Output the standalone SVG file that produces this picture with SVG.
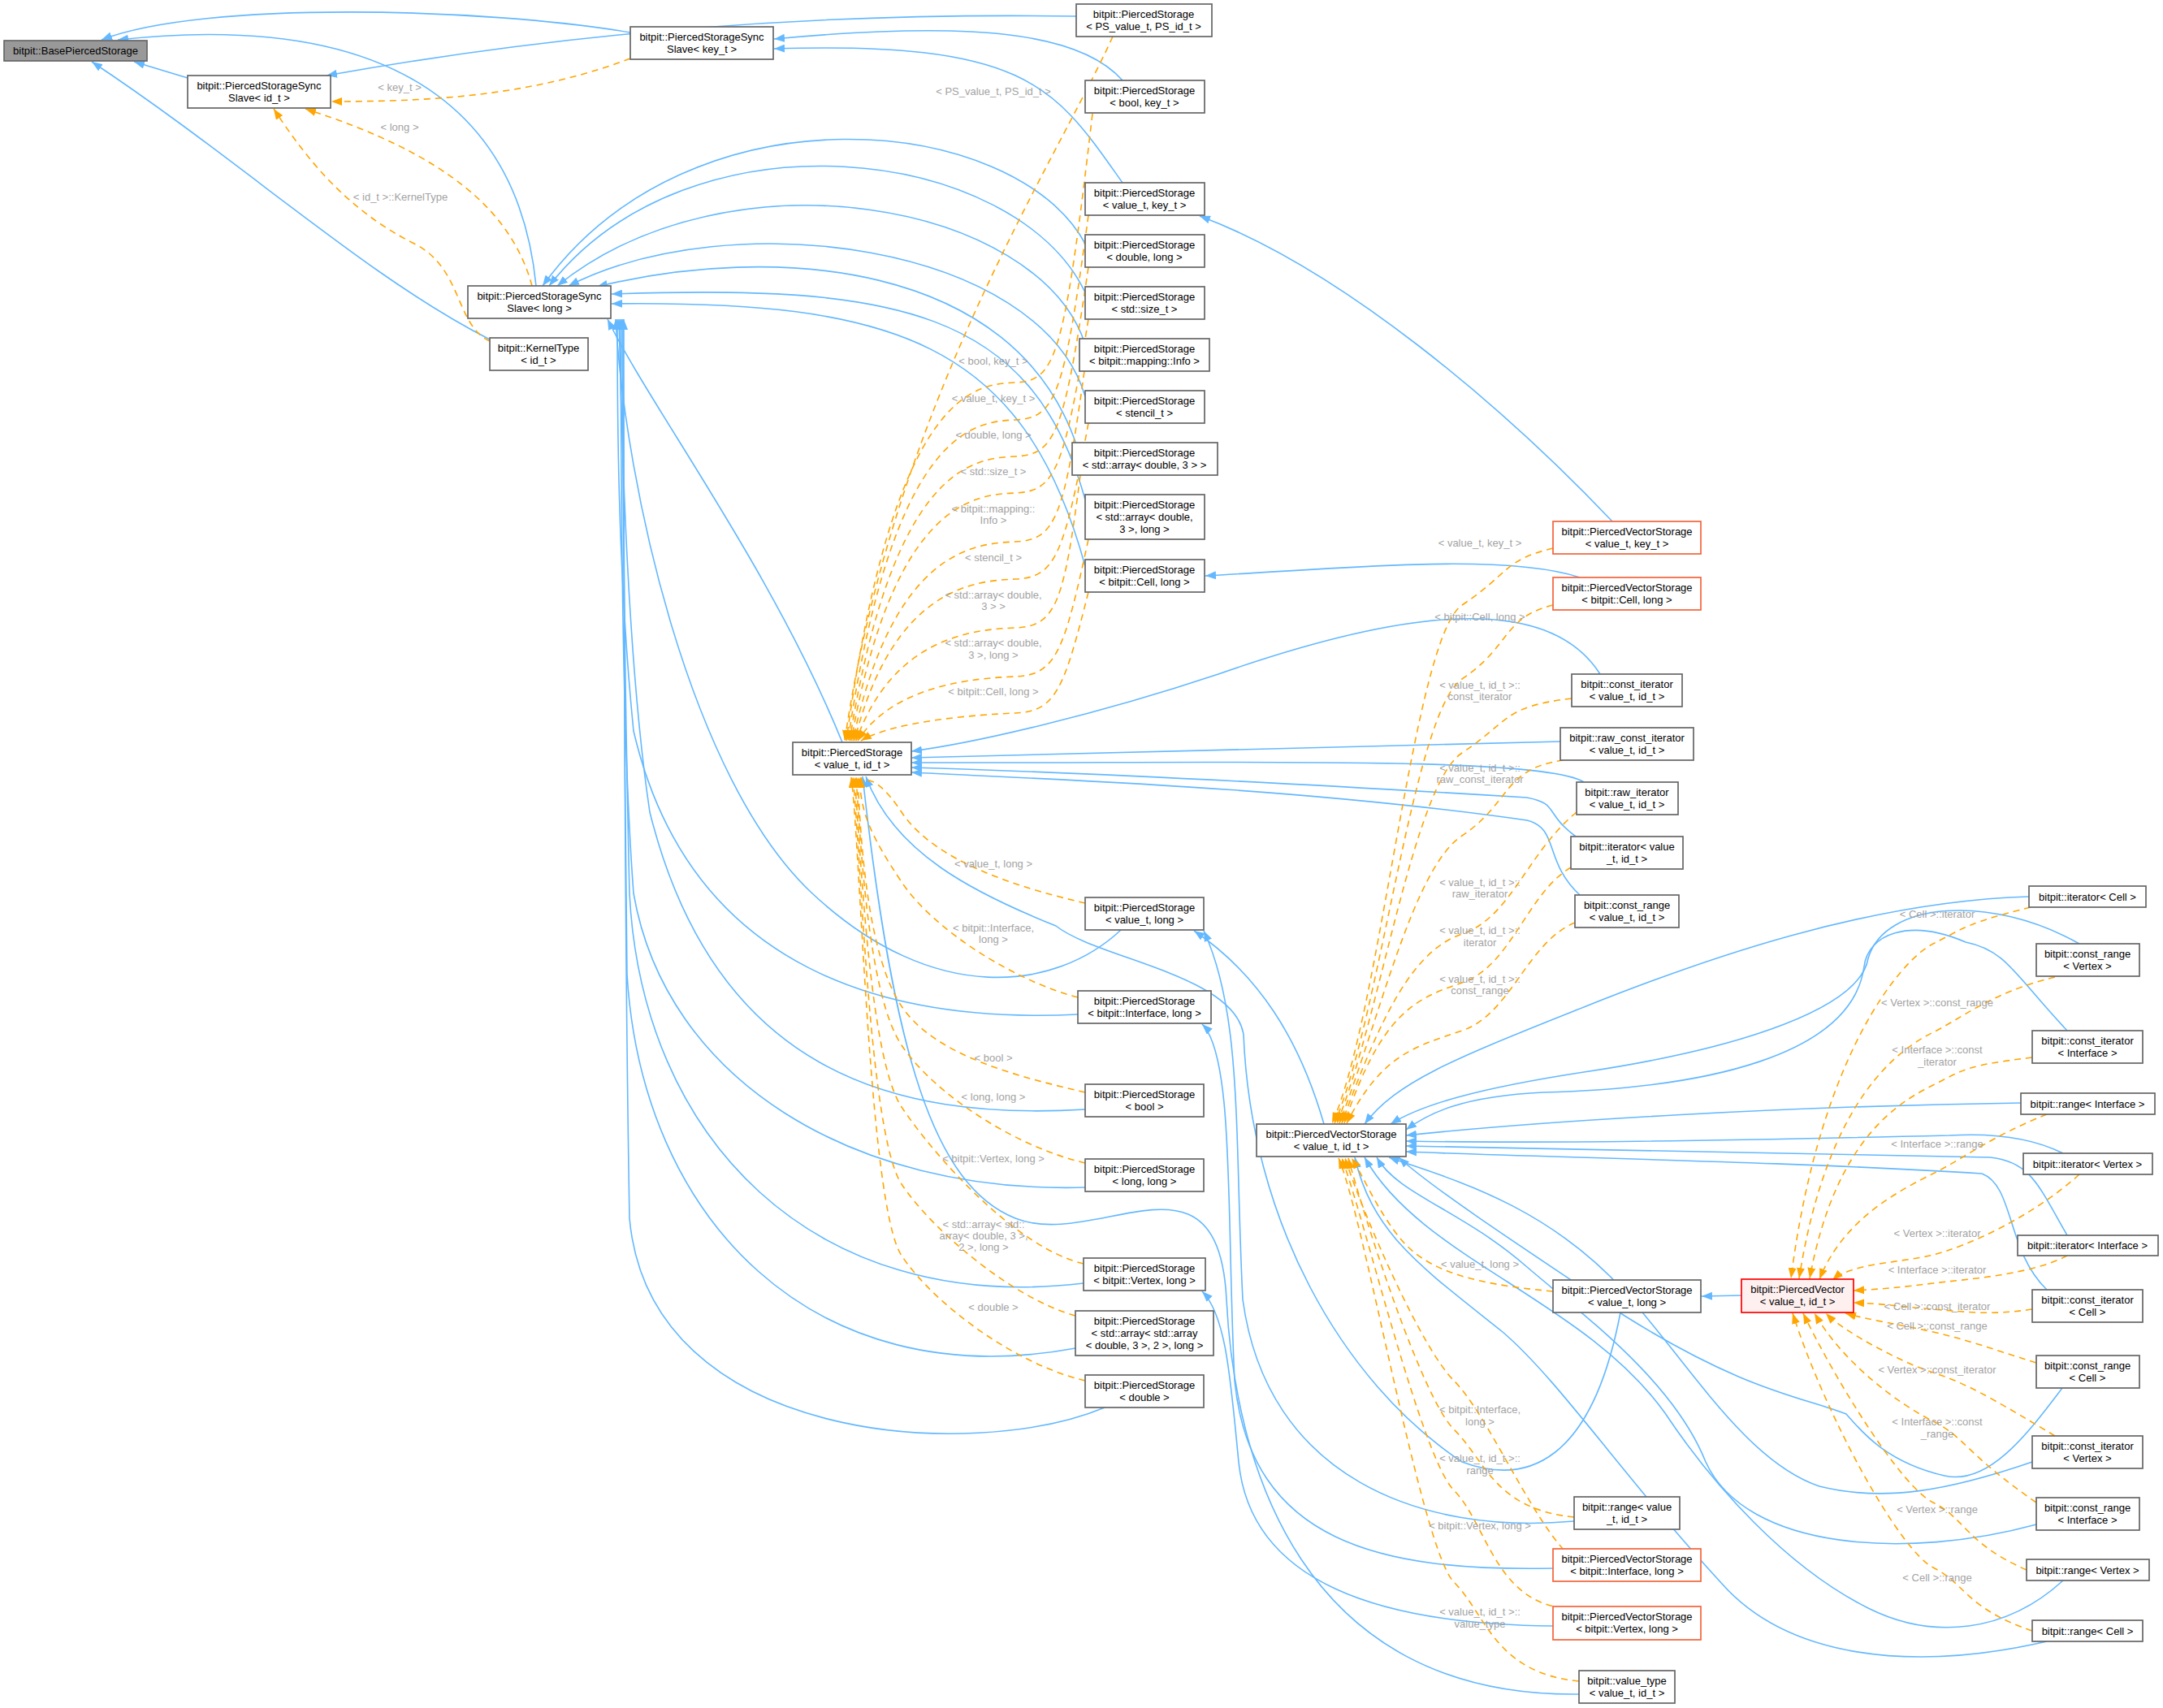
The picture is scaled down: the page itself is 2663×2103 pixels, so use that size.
<svg xmlns="http://www.w3.org/2000/svg" width="2663" height="2103" viewBox="0 0 2663 2103">
<style>
.n rect{fill:#fff;stroke:#666;stroke-width:1.7}
.r rect{fill:#fff;stroke:#f4633a;stroke-width:1.7}
text{font-family:"Liberation Sans",Arial,sans-serif;font-size:13px;text-anchor:middle;fill:#000}
.l{fill:#a3a3a3}
.b{fill:none;stroke:#63b8ff;stroke-width:1.6}
.o{fill:none;stroke:#ffa500;stroke-width:1.6;stroke-dasharray:8,6}
</style>
<defs>
<marker id="ab" markerUnits="userSpaceOnUse" markerWidth="14" markerHeight="10" refX="13" refY="5" orient="auto"><path d="M0,0 L13,5 L0,10 z" fill="#63b8ff"/></marker>
<marker id="ao" markerUnits="userSpaceOnUse" markerWidth="14" markerHeight="10" refX="13" refY="5" orient="auto"><path d="M0,0 L13,5 L0,10 z" fill="#ffa500"/></marker>
</defs>
<rect width="2663" height="2103" fill="#fff"/>
<g id="edges">
<g marker-end="url(#ab)">
<path class="b" d="M231,96 L165,76"/>
<path class="b" d="M776,40 C600,10 250,0 125,49"/>
<path class="b" d="M660,352 C640,150 500,10 145,49"/>
<path class="b" d="M603,418 C450,340 300,200 113,76"/>
<path class="b" d="M1325,20 C1000,15 700,40 402,93"/>
<path class="b" d="M1382,99 C1330,40 1200,25 953,48"/>
<path class="b" d="M1382,225 C1300,110 1270,50 953,60"/>
<path class="b" d="M1037,914 C950,700 800,500 748,393"/>
<path class="b" d="M1336,300 C1250,140 850,100 668,352"/>
<path class="b" d="M1336,360 C1250,180 850,130 676,352"/>
<path class="b" d="M1336,424 C1280,250 900,180 686,352"/>
<path class="b" d="M1336,488 C1280,300 900,250 700,352"/>
<path class="b" d="M1326,550 C1250,320 950,300 735,353"/>
<path class="b" d="M1336,615 C1270,380 1100,350 753,362"/>
<path class="b" d="M1336,697 C1260,420 1100,370 753,374"/>
<path class="b" d="M1380,1145 C1300,1220 1150,1240 1000,1100 C850,960 770,600 758,393"/>
<path class="b" d="M1327,1249 C1100,1260 850,1200 780,900 C760,700 760,500 760,393"/>
<path class="b" d="M1336,1366 C1100,1380 880,1320 800,1000 C770,800 765,500 762,393"/>
<path class="b" d="M1336,1462 C1050,1470 820,1330 780,1100 C765,900 765,600 764,393"/>
<path class="b" d="M1334,1580 C1000,1620 790,1400 775,1100 C768,800 766,500 766,393"/>
<path class="b" d="M1324,1660 C1000,1720 790,1500 772,1200 C768,900 767,500 767,393"/>
<path class="b" d="M1360,1733 C1200,1800 800,1780 775,1500 C768,1100 768,500 768,393"/>
<path class="b" d="M1970,830 C1900,720 1700,760 1500,830 C1350,880 1200,915 1122,925"/>
<path class="b" d="M1921,913 L1122,933"/>
<path class="b" d="M1950,963 C1900,930 1500,940 1122,939"/>
<path class="b" d="M1940,1030 C1900,1000 1920,990 1880,982 C1600,965 1300,950 1122,945"/>
<path class="b" d="M1945,1102 C1900,1060 1920,1020 1880,1010 C1600,970 1300,960 1122,951"/>
<path class="b" d="M1944,2086 C1600,2090 1520,1800 1510,1600 S1350,1540 1250,1500 S1100,1300 1062,956"/>
<path class="b" d="M1912,2002 C1700,2000 1540,1950 1525,1800 C1515,1700 1510,1620 1480,1590"/>
<path class="b" d="M1912,1931 C1700,1935 1540,1900 1520,1700 C1510,1500 1520,1300 1480,1261"/>
<path class="b" d="M1938,1873 C1750,1890 1560,1820 1530,1600 C1520,1400 1530,1250 1482,1146"/>
<path class="b" d="M1630,1384 C1600,1280 1550,1200 1470,1146"/>
<path class="b" d="M1995,1616 C1960,1800 1880,1830 1800,1800 C1650,1700 1540,1500 1531,1274 C1520,1200 1350,1180 1300,1140 C1200,1100 1100,1050 1066,956"/>
<path class="b" d="M2498,1104 C2300,1110 2100,1180 1950,1240 C1800,1300 1720,1330 1680,1384"/>
<path class="b" d="M2560,1162 C2450,1100 2320,1110 2300,1180 C2290,1240 2150,1290 1950,1320 C1820,1340 1750,1360 1712,1384"/>
<path class="b" d="M2545,1269 C2480,1200 2470,1170 2420,1160 C2350,1130 2300,1150 2295,1190 C2280,1300 2100,1340 1900,1345 C1800,1350 1760,1370 1731,1391"/>
<path class="b" d="M2488,1358 C2200,1362 1900,1380 1731,1398"/>
<path class="b" d="M2540,1420 C2500,1400 2450,1395 2400,1398 C2100,1405 1900,1408 1731,1405"/>
<path class="b" d="M2545,1521 C2510,1460 2500,1430 2450,1425 C2200,1420 1900,1414 1731,1411"/>
<path class="b" d="M2520,1588 C2470,1540 2480,1460 2440,1445 C2200,1430 1900,1425 1731,1418"/>
<path class="b" d="M2539,1709 C2500,1760 2450,1830 2394,1817 C2320,1800 2290,1760 2273,1741 C2220,1720 2150,1714 2000,1620 C1850,1520 1760,1460 1722,1425"/>
<path class="b" d="M2502,1800 C2400,1835 2320,1850 2240,1830 C2150,1800 2080,1680 2000,1590 C1900,1480 1780,1450 1710,1425"/>
<path class="b" d="M2507,1877 C2350,1920 2150,1910 2100,1800 C2060,1700 1950,1620 1880,1560 C1800,1490 1720,1470 1695,1425"/>
<path class="b" d="M2540,1946 C2470,2010 2380,2020 2300,1980 C2200,1930 2110,1830 2050,1740 C1950,1600 1750,1550 1680,1425"/>
<path class="b" d="M2520,2021 C2350,2060 2200,2040 2120,1950 C2000,1820 1920,1700 1850,1640 C1750,1560 1690,1520 1668,1425"/>
<path class="b" d="M2144,1595 L2095,1596"/>
<path class="b" d="M1985,642 C1850,500 1650,330 1477,266"/>
<path class="b" d="M1945,711 C1850,680 1650,700 1484,709"/>
</g>
<g marker-end="url(#ao)">
<path class="o" d="M776,72 C650,120 520,125 408,125"/>
<path class="o" d="M655,352 C630,260 550,190 376,134"/>
<path class="o" d="M603,420 C560,400 570,330 510,300 C430,260 380,200 337,134"/>
<path class="o" d="M1370,45 C1300,200 1100,500 1040,912"/>
<path class="o" d="M1345,140 C1310,441 1300,469 1250,471 S1100,481 1042,912"/>
<path class="o" d="M1340,265 C1310,487 1300,515 1250,517 S1100,527 1044,912"/>
<path class="o" d="M1340,329 C1310,532 1300,560 1250,562 S1100,572 1046,912"/>
<path class="o" d="M1340,393 C1310,577 1300,605 1250,607 S1100,617 1048,912"/>
<path class="o" d="M1335,457 C1310,637 1300,665 1250,667 S1100,677 1050,912"/>
<path class="o" d="M1340,521 C1310,683 1300,711 1250,713 S1100,723 1052,912"/>
<path class="o" d="M1330,585 C1310,743 1300,771 1250,773 S1100,783 1054,912"/>
<path class="o" d="M1340,664 C1310,803 1300,831 1250,833 S1100,843 1056,912"/>
<path class="o" d="M1340,729 C1310,848 1300,876 1250,878 S1100,888 1060,912"/>
<path class="o" d="M1336,1112 C1250,1092 1150,1060 1110,1000 S1060,970 1060,957"/>
<path class="o" d="M1327,1228 C1250,1208 1150,1146 1110,1086 S1060,1000 1058,957"/>
<path class="o" d="M1336,1345 C1250,1325 1150,1299 1110,1239 S1060,1050 1056,957"/>
<path class="o" d="M1336,1432 C1250,1412 1150,1347 1110,1287 S1060,1050 1054,957"/>
<path class="o" d="M1334,1556 C1250,1536 1150,1423 1110,1363 S1060,1050 1052,957"/>
<path class="o" d="M1324,1620 C1250,1600 1150,1518 1110,1458 S1060,1050 1050,957"/>
<path class="o" d="M1336,1700 C1250,1680 1150,1606 1110,1546 S1060,1050 1048,957"/>
<path class="o" d="M1912,675 C1850,690 1860,705 1800,745 S1700,1250 1640,1383"/>
<path class="o" d="M1912,745 C1850,760 1860,796 1800,836 S1700,1250 1643,1383"/>
<path class="o" d="M1935,860 C1850,870 1860,887 1800,927 S1700,1250 1646,1383"/>
<path class="o" d="M1925,936 C1850,946 1860,989 1800,1029 S1700,1250 1649,1383"/>
<path class="o" d="M1941,1000 C1880,1050 1860,1130 1800,1150 S1700,1250 1652,1383"/>
<path class="o" d="M1934,1068 C1880,1100 1860,1190 1800,1210 S1700,1250 1655,1383"/>
<path class="o" d="M1939,1136 C1880,1160 1860,1249 1800,1269 S1700,1300 1658,1383"/>
<path class="o" d="M1912,1590 C1800,1580 1750,1560 1720,1520 S1680,1450 1664,1426"/>
<path class="o" d="M1938,1868 C1840,1858 1830,1800 1790,1760 S1680,1500 1660,1426"/>
<path class="o" d="M1925,1908 C1880,1858 1830,1740 1790,1700 S1680,1500 1656,1426"/>
<path class="o" d="M1925,1980 C1840,1970 1830,1875 1790,1835 S1680,1500 1652,1426"/>
<path class="o" d="M1944,2070 C1840,2060 1830,1988 1790,1948 S1680,1500 1648,1426"/>
<path class="o" d="M2500,1117 C2420,1137 2420,1142 2380,1162 S2240,1300 2205,1574"/>
<path class="o" d="M2530,1203 C2450,1223 2420,1251 2380,1271 S2250,1350 2215,1574"/>
<path class="o" d="M2502,1302 C2420,1312 2420,1316 2380,1336 S2260,1400 2228,1574"/>
<path class="o" d="M2520,1372 C2450,1400 2420,1425 2380,1445 S2270,1500 2240,1575"/>
<path class="o" d="M2560,1446 C2500,1500 2420,1535 2380,1545 S2280,1555 2256,1576"/>
<path class="o" d="M2545,1546 C2500,1570 2420,1575 2380,1580 S2320,1587 2282,1589"/>
<path class="o" d="M2502,1612 C2450,1620 2420,1615 2380,1612 S2320,1605 2282,1604"/>
<path class="o" d="M2507,1678 C2450,1660 2420,1649 2380,1640 S2300,1625 2272,1617"/>
<path class="o" d="M2530,1768 C2450,1720 2420,1703 2380,1690 S2270,1640 2248,1617"/>
<path class="o" d="M2507,1850 C2420,1790 2420,1770 2380,1750 S2270,1680 2234,1617"/>
<path class="o" d="M2495,1933 C2420,1900 2420,1870 2380,1850 S2260,1700 2220,1617"/>
<path class="o" d="M2502,2008 C2420,1980 2420,1950 2380,1930 S2250,1750 2207,1617"/>
</g>
<g class="l">
<text x="492" y="112" class="l">&lt; key_t &gt;</text>
<text x="492" y="161" class="l">&lt; long &gt;</text>
<text x="493" y="247" class="l">&lt; id_t &gt;::KernelType</text>
<text x="1223" y="117" class="l">&lt; PS_value_t, PS_id_t &gt;</text>
<text x="1223" y="449" class="l">&lt; bool, key_t &gt;</text>
<text x="1223" y="495" class="l">&lt; value_t, key_t &gt;</text>
<text x="1223" y="540" class="l">&lt; double, long &gt;</text>
<text x="1223" y="585" class="l">&lt; std::size_t &gt;</text>
<text x="1223" y="631" class="l">&lt; bitpit::mapping::</text>
<text x="1223" y="645" class="l">Info &gt;</text>
<text x="1223" y="691" class="l">&lt; stencil_t &gt;</text>
<text x="1223" y="737" class="l">&lt; std::array&lt; double,</text>
<text x="1223" y="751" class="l">3 &gt; &gt;</text>
<text x="1223" y="796" class="l">&lt; std::array&lt; double,</text>
<text x="1223" y="811" class="l">3 &gt;, long &gt;</text>
<text x="1223" y="856" class="l">&lt; bitpit::Cell, long &gt;</text>
<text x="1223" y="1068" class="l">&lt; value_t, long &gt;</text>
<text x="1223" y="1147" class="l">&lt; bitpit::Interface,</text>
<text x="1223" y="1161" class="l">long &gt;</text>
<text x="1223" y="1307" class="l">&lt; bool &gt;</text>
<text x="1223" y="1355" class="l">&lt; long, long &gt;</text>
<text x="1223" y="1431" class="l">&lt; bitpit::Vertex, long &gt;</text>
<text x="1211" y="1512" class="l">&lt; std::array&lt; std::</text>
<text x="1211" y="1526" class="l">array&lt; double, 3 &gt;,</text>
<text x="1211" y="1540" class="l">2 &gt;, long &gt;</text>
<text x="1223" y="1614" class="l">&lt; double &gt;</text>
<text x="1822" y="673" class="l">&lt; value_t, key_t &gt;</text>
<text x="1822" y="764" class="l">&lt; bitpit::Cell, long &gt;</text>
<text x="1822" y="848" class="l">&lt; value_t, id_t &gt;::</text>
<text x="1822" y="862" class="l">const_iterator</text>
<text x="1822" y="950" class="l">&lt; value_t, id_t &gt;::</text>
<text x="1822" y="964" class="l">raw_const_iterator</text>
<text x="1822" y="1091" class="l">&lt; value_t, id_t &gt;::</text>
<text x="1822" y="1105" class="l">raw_iterator</text>
<text x="1822" y="1150" class="l">&lt; value_t, id_t &gt;::</text>
<text x="1822" y="1165" class="l">iterator</text>
<text x="1822" y="1210" class="l">&lt; value_t, id_t &gt;::</text>
<text x="1822" y="1224" class="l">const_range</text>
<text x="1822" y="1561" class="l">&lt; value_t, long &gt;</text>
<text x="1822" y="1740" class="l">&lt; bitpit::Interface,</text>
<text x="1822" y="1755" class="l">long &gt;</text>
<text x="1822" y="1800" class="l">&lt; value_t, id_t &gt;::</text>
<text x="1822" y="1815" class="l">range</text>
<text x="1822" y="1883" class="l">&lt; bitpit::Vertex, long &gt;</text>
<text x="1822" y="1989" class="l">&lt; value_t, id_t &gt;::</text>
<text x="1822" y="2004" class="l">value_type</text>
<text x="2385" y="1130" class="l">&lt; Cell &gt;::iterator</text>
<text x="2385" y="1239" class="l">&lt; Vertex &gt;::const_range</text>
<text x="2385" y="1297" class="l">&lt; Interface &gt;::const</text>
<text x="2385" y="1312" class="l">_iterator</text>
<text x="2385" y="1413" class="l">&lt; Interface &gt;::range</text>
<text x="2385" y="1523" class="l">&lt; Vertex &gt;::iterator</text>
<text x="2385" y="1568" class="l">&lt; Interface &gt;::iterator</text>
<text x="2385" y="1613" class="l">&lt; Cell &gt;::const_iterator</text>
<text x="2385" y="1637" class="l">&lt; Cell &gt;::const_range</text>
<text x="2385" y="1691" class="l">&lt; Vertex &gt;::const_iterator</text>
<text x="2385" y="1755" class="l">&lt; Interface &gt;::const</text>
<text x="2385" y="1770" class="l">_range</text>
<text x="2385" y="1863" class="l">&lt; Vertex &gt;::range</text>
<text x="2385" y="1947" class="l">&lt; Cell &gt;::range</text>
</g>
</g>
<g id="n1"><rect x="5" y="50" width="176" height="25" fill="#999" stroke="#666" stroke-width="1.7"/><text x="93" y="67">bitpit::BasePiercedStorage</text></g>
<g id="n2" class="n"><rect x="231" y="93" width="176" height="40"/><text x="319" y="110">bitpit::PiercedStorageSync</text><text x="319" y="125">Slave&lt; id_t &gt;</text></g>
<g id="n3" class="n"><rect x="776" y="33" width="176" height="40"/><text x="864" y="50">bitpit::PiercedStorageSync</text><text x="864" y="65">Slave&lt; key_t &gt;</text></g>
<g id="n4" class="n"><rect x="576" y="352" width="176" height="40"/><text x="664" y="369">bitpit::PiercedStorageSync</text><text x="664" y="384">Slave&lt; long &gt;</text></g>
<g id="n5" class="n"><rect x="603" y="416" width="121" height="40"/><text x="663" y="433">bitpit::KernelType</text><text x="663" y="448">&lt; id_t &gt;</text></g>
<g id="n6" class="n"><rect x="1325" y="5" width="167" height="40"/><text x="1408" y="22">bitpit::PiercedStorage</text><text x="1408" y="37">&lt; PS_value_t, PS_id_t &gt;</text></g>
<g id="n7" class="n"><rect x="1336" y="99" width="147" height="40"/><text x="1409" y="116">bitpit::PiercedStorage</text><text x="1409" y="131">&lt; bool, key_t &gt;</text></g>
<g id="n8" class="n"><rect x="1336" y="225" width="147" height="40"/><text x="1409" y="242">bitpit::PiercedStorage</text><text x="1409" y="257">&lt; value_t, key_t &gt;</text></g>
<g id="n9" class="n"><rect x="1336" y="289" width="147" height="40"/><text x="1409" y="306">bitpit::PiercedStorage</text><text x="1409" y="321">&lt; double, long &gt;</text></g>
<g id="n10" class="n"><rect x="1336" y="353" width="147" height="40"/><text x="1409" y="370">bitpit::PiercedStorage</text><text x="1409" y="385">&lt; std::size_t &gt;</text></g>
<g id="n11" class="n"><rect x="1329" y="417" width="160" height="40"/><text x="1409" y="434">bitpit::PiercedStorage</text><text x="1409" y="449">&lt; bitpit::mapping::Info &gt;</text></g>
<g id="n12" class="n"><rect x="1336" y="481" width="147" height="40"/><text x="1409" y="498">bitpit::PiercedStorage</text><text x="1409" y="513">&lt; stencil_t &gt;</text></g>
<g id="n13" class="n"><rect x="1320" y="545" width="179" height="40"/><text x="1409" y="562">bitpit::PiercedStorage</text><text x="1409" y="577">&lt; std::array&lt; double, 3 &gt; &gt;</text></g>
<g id="n14" class="n"><rect x="1336" y="609" width="147" height="55"/><text x="1409" y="626">bitpit::PiercedStorage</text><text x="1409" y="641">&lt; std::array&lt; double,</text><text x="1409" y="656">3 &gt;, long &gt;</text></g>
<g id="n15" class="n"><rect x="1336" y="689" width="147" height="40"/><text x="1409" y="706">bitpit::PiercedStorage</text><text x="1409" y="721">&lt; bitpit::Cell, long &gt;</text></g>
<g id="n16" class="r"><rect x="1912" y="642" width="182" height="40"/><text x="2003" y="659">bitpit::PiercedVectorStorage</text><text x="2003" y="674">&lt; value_t, key_t &gt;</text></g>
<g id="n17" class="r"><rect x="1912" y="711" width="182" height="40"/><text x="2003" y="728">bitpit::PiercedVectorStorage</text><text x="2003" y="743">&lt; bitpit::Cell, long &gt;</text></g>
<g id="n18" class="n"><rect x="976" y="914" width="146" height="40"/><text x="1049" y="931">bitpit::PiercedStorage</text><text x="1049" y="946">&lt; value_t, id_t &gt;</text></g>
<g id="n19" class="n"><rect x="1935" y="830" width="136" height="40"/><text x="2003" y="847">bitpit::const_iterator</text><text x="2003" y="862">&lt; value_t, id_t &gt;</text></g>
<g id="n20" class="n"><rect x="1921" y="896" width="164" height="40"/><text x="2003" y="913">bitpit::raw_const_iterator</text><text x="2003" y="928">&lt; value_t, id_t &gt;</text></g>
<g id="n21" class="n"><rect x="1941" y="963" width="125" height="40"/><text x="2003" y="980">bitpit::raw_iterator</text><text x="2003" y="995">&lt; value_t, id_t &gt;</text></g>
<g id="n22" class="n"><rect x="1934" y="1030" width="138" height="40"/><text x="2003" y="1047">bitpit::iterator&lt; value</text><text x="2003" y="1062">_t, id_t &gt;</text></g>
<g id="n23" class="n"><rect x="1939" y="1102" width="128" height="40"/><text x="2003" y="1119">bitpit::const_range</text><text x="2003" y="1134">&lt; value_t, id_t &gt;</text></g>
<g id="n24" class="n"><rect x="2498" y="1091" width="144" height="26"/><text x="2570" y="1109">bitpit::iterator&lt; Cell &gt;</text></g>
<g id="n25" class="n"><rect x="2507" y="1162" width="127" height="40"/><text x="2570" y="1179">bitpit::const_range</text><text x="2570" y="1194">&lt; Vertex &gt;</text></g>
<g id="n26" class="n"><rect x="2502" y="1269" width="136" height="40"/><text x="2570" y="1286">bitpit::const_iterator</text><text x="2570" y="1301">&lt; Interface &gt;</text></g>
<g id="n27" class="n"><rect x="2488" y="1346" width="165" height="26"/><text x="2570" y="1364">bitpit::range&lt; Interface &gt;</text></g>
<g id="n28" class="n"><rect x="2491" y="1420" width="159" height="26"/><text x="2570" y="1438">bitpit::iterator&lt; Vertex &gt;</text></g>
<g id="n29" class="n"><rect x="1336" y="1105" width="146" height="40"/><text x="1409" y="1122">bitpit::PiercedStorage</text><text x="1409" y="1137">&lt; value_t, long &gt;</text></g>
<g id="n30" class="n"><rect x="1327" y="1220" width="164" height="40"/><text x="1409" y="1237">bitpit::PiercedStorage</text><text x="1409" y="1252">&lt; bitpit::Interface, long &gt;</text></g>
<g id="n31" class="n"><rect x="1336" y="1335" width="146" height="40"/><text x="1409" y="1352">bitpit::PiercedStorage</text><text x="1409" y="1367">&lt; bool &gt;</text></g>
<g id="n32" class="n"><rect x="1547" y="1384" width="184" height="40"/><text x="1639" y="1401">bitpit::PiercedVectorStorage</text><text x="1639" y="1416">&lt; value_t, id_t &gt;</text></g>
<g id="n33" class="n"><rect x="1336" y="1427" width="146" height="40"/><text x="1409" y="1444">bitpit::PiercedStorage</text><text x="1409" y="1459">&lt; long, long &gt;</text></g>
<g id="n34" class="n"><rect x="1334" y="1549" width="150" height="40"/><text x="1409" y="1566">bitpit::PiercedStorage</text><text x="1409" y="1581">&lt; bitpit::Vertex, long &gt;</text></g>
<g id="n35" class="n"><rect x="1324" y="1614" width="170" height="55"/><text x="1409" y="1631">bitpit::PiercedStorage</text><text x="1409" y="1646">&lt; std::array&lt; std::array</text><text x="1409" y="1661">&lt; double, 3 &gt;, 2 &gt;, long &gt;</text></g>
<g id="n36" class="n"><rect x="1336" y="1693" width="146" height="40"/><text x="1409" y="1710">bitpit::PiercedStorage</text><text x="1409" y="1725">&lt; double &gt;</text></g>
<g id="n37" class="n"><rect x="1912" y="1576" width="182" height="40"/><text x="2003" y="1593">bitpit::PiercedVectorStorage</text><text x="2003" y="1608">&lt; value_t, long &gt;</text></g>
<g id="n38"><rect x="2144" y="1575" width="138" height="41" fill="#fff0f0" stroke="#ff0000" stroke-width="1.7"/><text x="2213" y="1592">bitpit::PiercedVector</text><text x="2213" y="1607">&lt; value_t, id_t &gt;</text></g>
<g id="n39" class="n"><rect x="2502" y="1588" width="136" height="40"/><text x="2570" y="1605">bitpit::const_iterator</text><text x="2570" y="1620">&lt; Cell &gt;</text></g>
<g id="n40" class="n"><rect x="2484" y="1521" width="173" height="25"/><text x="2570" y="1538">bitpit::iterator&lt; Interface &gt;</text></g>
<g id="n42" class="n"><rect x="2507" y="1669" width="127" height="40"/><text x="2570" y="1686">bitpit::const_range</text><text x="2570" y="1701">&lt; Cell &gt;</text></g>
<g id="n43" class="n"><rect x="2502" y="1768" width="136" height="40"/><text x="2570" y="1785">bitpit::const_iterator</text><text x="2570" y="1800">&lt; Vertex &gt;</text></g>
<g id="n44" class="n"><rect x="2507" y="1844" width="127" height="40"/><text x="2570" y="1861">bitpit::const_range</text><text x="2570" y="1876">&lt; Interface &gt;</text></g>
<g id="n45" class="n"><rect x="2495" y="1920" width="151" height="26"/><text x="2570" y="1938">bitpit::range&lt; Vertex &gt;</text></g>
<g id="n46" class="n"><rect x="2502" y="1995" width="136" height="26"/><text x="2570" y="2013">bitpit::range&lt; Cell &gt;</text></g>
<g id="n47" class="n"><rect x="1938" y="1843" width="130" height="40"/><text x="2003" y="1860">bitpit::range&lt; value</text><text x="2003" y="1875">_t, id_t &gt;</text></g>
<g id="n48" class="r"><rect x="1912" y="1907" width="182" height="40"/><text x="2003" y="1924">bitpit::PiercedVectorStorage</text><text x="2003" y="1939">&lt; bitpit::Interface, long &gt;</text></g>
<g id="n49" class="r"><rect x="1912" y="1978" width="182" height="41"/><text x="2003" y="1995">bitpit::PiercedVectorStorage</text><text x="2003" y="2010">&lt; bitpit::Vertex, long &gt;</text></g>
<g id="n50" class="n"><rect x="1944" y="2057" width="118" height="40"/><text x="2003" y="2074">bitpit::value_type</text><text x="2003" y="2089">&lt; value_t, id_t &gt;</text></g>
</svg>
